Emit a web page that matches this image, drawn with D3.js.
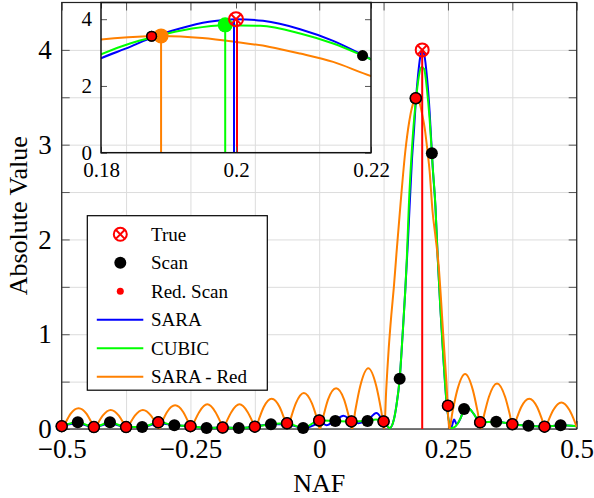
<!DOCTYPE html>
<html>
<head>
<meta charset="utf-8">
<script src="https://cdn.jsdelivr.net/npm/d3@7"></script>
<style>
body { margin: 0; background: #fff; }
text { font-family: "Liberation Serif", "Times New Roman", serif; fill: #000; }
</style>
</head>
<body>
<script>
const width = 594;
const height = 498;

// scan points, spacing 1/32
const scanX = [-0.5, -0.46875, -0.4375, -0.40625, -0.375, -0.34375, -0.3125, -0.28125,
    -0.25, -0.21875, -0.1875, -0.15625, -0.125, -0.09375, -0.0625, -0.03125,
    0, 0.03125, 0.0625, 0.09375, 0.125, 0.15625, 0.1875, 0.21875,
    0.25, 0.28125, 0.3125, 0.34375, 0.375, 0.40625, 0.4375, 0.46875];
const scanY = [0.03, 0.07, 0.02, 0.07, 0.02, 0.02, 0.07, 0.04,
    0.03, 0.01, 0.015, 0.01, 0.025, 0.05, 0.06, 0.01,
    0.09, 0.085, 0.08, 0.085, 0.08, 0.53, 3.49, 2.91,
    0.246, 0.21, 0.07, 0.077, 0.05, 0.035, 0.025, 0.04];

// reduced scan (every other point)
const redX = [-0.5, -0.4375, -0.375, -0.3125, -0.25, -0.1875, -0.125, -0.0625,
    0, 0.0625, 0.125, 0.1875, 0.25, 0.3125, 0.375, 0.4375];
const redY = [0.03, 0.02, 0.02, 0.07, 0.03, 0.015, 0.025, 0.06,
    0.09, 0.08, 0.08, 3.49, 0.246, 0.07, 0.05, 0.025];

const trueX = 0.2;
const trueY = 4;

// estimated peaks shown in the zoom
const peakX = [0.1889, 0.1984, 0.1997];
const peakY = [3.5, 3.83, 4.0];

const sara = [[-0.5, 0.03], [-0.46875, 0.06], [-0.4375, 0.02], [-0.40625, 0.06], [-0.375, 0.02],
    [-0.34375, 0.02], [-0.3125, 0.06], [-0.28125, 0.04], [-0.25, 0.03], [-0.21875, 0.01],
    [-0.1875, 0.015], [-0.15625, 0.01], [-0.125, 0.025], [-0.09375, 0.05], [-0.0625, 0.05],
    [-0.03125, 0.01], [-0.01, 0.04], [0, 0.08], [0.014, 0.04], [0.031, 0.09], [0.047, 0.14],
    [0.0625, 0.09], [0.076, 0.06], [0.094, 0.09], [0.111, 0.17], [0.125, 0.08], [0.137, 0.01],
    [0.145, 0.1], [0.15, 0.25], [0.15625, 0.53], [0.162, 1.0], [0.167, 1.45], [0.1725, 2.0],
    [0.18, 2.83], [0.1843, 3.17], [0.1875, 3.45], [0.1917, 3.72], [0.196, 3.92], [0.2, 4.0],
    [0.204, 3.95], [0.2095, 3.7], [0.2144, 3.35], [0.21875, 2.93], [0.22, 2.8], [0.2257, 2.35],
    [0.2302, 1.8], [0.235, 1.3], [0.24, 0.85], [0.247, 0.3], [0.256, 0.01], [0.262, 0.1],
    [0.267, 0.05], [0.275, 0.12], [0.28125, 0.21], [0.29, 0.22], [0.3, 0.16], [0.3125, 0.07],
    [0.34375, 0.077], [0.375, 0.05], [0.40625, 0.035], [0.4375, 0.025], [0.46875, 0.04], [0.5, 0.03]];

const cubic = [[-0.5, 0.03], [-0.46875, 0.07], [-0.4375, 0.02], [-0.40625, 0.07], [-0.375, 0.02],
    [-0.34375, 0.02], [-0.3125, 0.07], [-0.28125, 0.04], [-0.25, 0.03], [-0.21875, 0.01],
    [-0.1875, 0.015], [-0.15625, 0.01], [-0.125, 0.025], [-0.09375, 0.05], [-0.0625, 0.06],
    [-0.03125, 0.01], [0, 0.09], [0.03125, 0.085], [0.0625, 0.08], [0.094, 0.085], [0.11, 0.1],
    [0.125, 0.08], [0.137, 0.01], [0.145, 0.1], [0.15, 0.25], [0.15625, 0.53], [0.162, 1.0],
    [0.167, 1.45], [0.17, 1.78], [0.174, 2.35], [0.18, 2.95], [0.1843, 3.27], [0.1875, 3.45],
    [0.1935, 3.72], [0.1984, 3.82], [0.2036, 3.8], [0.2095, 3.57], [0.2144, 3.27], [0.21875, 2.91],
    [0.22, 2.8], [0.2257, 2.35], [0.2302, 1.8], [0.235, 1.3], [0.24, 0.85], [0.247, 0.3],
    [0.256, 0.01], [0.265, 0.03], [0.275, 0.12], [0.28125, 0.2], [0.29, 0.22], [0.3, 0.16],
    [0.3125, 0.07], [0.34375, 0.077], [0.375, 0.05], [0.40625, 0.035], [0.4375, 0.025],
    [0.46875, 0.04], [0.5, 0.03]];

const saraRed = [[-0.5, 0.01],
    [-0.4985, 0], [-0.4922, 0.07], [-0.4829, 0.16], [-0.4673, 0.22], [-0.4516, 0.16], [-0.4423, 0.07],
    [-0.436, 0], [-0.4297, 0.06], [-0.4204, 0.14], [-0.4048, 0.20], [-0.3891, 0.14], [-0.3798, 0.06],
    [-0.3735, 0], [-0.3672, 0.06], [-0.3579, 0.14], [-0.3423, 0.20], [-0.3266, 0.14], [-0.3173, 0.06],
    [-0.311, 0], [-0.3047, 0.08], [-0.2954, 0.18], [-0.2798, 0.25], [-0.2641, 0.18], [-0.2548, 0.08],
    [-0.2485, 0], [-0.2422, 0.08], [-0.2329, 0.18], [-0.2173, 0.26], [-0.2016, 0.18], [-0.1923, 0.08],
    [-0.186, 0], [-0.1797, 0.08], [-0.1704, 0.18], [-0.1548, 0.26], [-0.1391, 0.18], [-0.1298, 0.08],
    [-0.1235, 0], [-0.1172, 0.10], [-0.1079, 0.23], [-0.0923, 0.32], [-0.0766, 0.23], [-0.0673, 0.10],
    [-0.061, 0], [-0.0547, 0.12], [-0.0454, 0.27], [-0.0298, 0.38], [-0.0141, 0.27], [-0.0048, 0.12],
    [0.0015, 0], [0.0078, 0.13], [0.0171, 0.31], [0.0328, 0.43], [0.0484, 0.31], [0.0577, 0.13],
    [0.064, 0], [0.0703, 0.20], [0.0796, 0.45], [0.0953, 0.64], [0.1109, 0.45], [0.1202, 0.20],
    [0.1265, 0], [0.130, 0.4], [0.135, 0.85], [0.140, 1.2], [0.145, 1.5], [0.150, 1.85],
    [0.158, 2.38], [0.167, 2.92], [0.175, 3.25], [0.180, 3.39], [0.184, 3.46], [0.189, 3.5],
    [0.195, 3.44], [0.200, 3.32], [0.205, 3.17], [0.2095, 2.97], [0.2144, 2.72], [0.220, 2.3],
    [0.226, 2.02], [0.232, 1.72], [0.237, 1.33], [0.241, 0.98], [0.247, 0.5],
    [0.2525, 0], [0.2588, 0.18], [0.2681, 0.41], [0.2833, 0.58], [0.2984, 0.41], [0.3077, 0.18],
    [0.314, 0], [0.3203, 0.15], [0.3296, 0.34], [0.3453, 0.48], [0.3609, 0.34], [0.3702, 0.15],
    [0.3765, 0], [0.3828, 0.10], [0.3921, 0.23], [0.4078, 0.32], [0.4234, 0.23], [0.4327, 0.10],
    [0.439, 0], [0.4453, 0.09], [0.4546, 0.20], [0.4703, 0.28], [0.4859, 0.20], [0.4952, 0.09],
    [0.5, 0.02]];

const xGridTicks = [-0.5, -0.375, -0.25, -0.125, 0, 0.125, 0.25, 0.375, 0.5];
const yGridTicks = [0, 0.5, 1, 1.5, 2, 2.5, 3, 3.5, 4];
const xTickValues = [-0.5, -0.25, 0, 0.25, 0.5];
const xTickLabels = ["\u22120.5", "\u22120.25", "0", "0.25", "0.5"];
const yTickValues = [0, 1, 2, 3, 4];
const yTickLabels = ["0", "1", "2", "3", "4"];

const insetXTicks = [0.18, 0.2, 0.22];
const insetXLabels = ["0.18", "0.2", "0.22"];
const insetYTicks = [0, 2, 4];
const insetYLabels = ["0", "2", "4"];

const legendNames = ["True", "Scan", "Red. Scan", "SARA", "CUBIC", "SARA - Red"];

const BLUE = "#0000ff", GREEN = "#00ff00", ORANGE = "#ff8000", RED = "#ff0000";

const svg = d3.select('body').append('svg')
    .attr('width', width)
    .attr('height', height);

const x = d3.scaleLinear().domain([-0.5, 0.5]).range([61.7, 576.7]);
const y = d3.scaleLinear().domain([0, 4.5]).range([429, 2.5]);

const plotW = x(0.5) - x(-0.5);
const plotH = y(0) - y(4.5);

// grid
svg.append("g")
    .attr("transform", "translate(0," + y(0) + ")")
    .call(d3.axisBottom(x).tickValues(xGridTicks).tickSize(-plotH).tickFormat(""))
    .call(g => g.select(".domain").remove())
    .selectAll("line").attr("stroke", "#dcdcdc");
svg.append("g")
    .attr("transform", "translate(" + x(-0.5) + ",0)")
    .call(d3.axisLeft(y).tickValues(yGridTicks).tickSize(-plotW).tickFormat(""))
    .call(g => g.select(".domain").remove())
    .selectAll("line").attr("stroke", "#dcdcdc");

function lbl(values, labels) {
    return d => {
        const i = values.indexOf(d);
        return i >= 0 ? labels[i] : "";
    };
}

// tick marks, inside on every side
const axBottom = svg.append("g")
    .attr("transform", "translate(0," + y(0) + ")")
    .call(d3.axisBottom(x).tickValues(xGridTicks).tickSizeInner(-8).tickSizeOuter(0)
        .tickPadding(10).tickFormat(lbl(xTickValues, xTickLabels)));
const axTop = svg.append("g")
    .attr("transform", "translate(0," + y(4.5) + ")")
    .call(d3.axisTop(x).tickValues(xGridTicks).tickSizeInner(-8).tickSizeOuter(0).tickFormat(""));
const axLeft = svg.append("g")
    .attr("transform", "translate(" + x(-0.5) + ",0)")
    .call(d3.axisLeft(y).tickValues(yGridTicks).tickSizeInner(-8).tickSizeOuter(0)
        .tickPadding(10).tickFormat(lbl(yTickValues, yTickLabels)));
const axRight = svg.append("g")
    .attr("transform", "translate(" + x(0.5) + ",0)")
    .call(d3.axisRight(y).tickValues(yGridTicks).tickSizeInner(-8).tickSizeOuter(0).tickFormat(""));

[axBottom, axTop, axLeft, axRight].forEach(g => {
    g.select(".domain").remove();
    g.selectAll("line").attr("stroke", "#555");
    g.selectAll("text").style("font-size", "27px")
        .style("font-family", '"Liberation Serif", serif').attr("fill", "#000");
});

svg.append("rect")
    .attr("x", x(-0.5)).attr("y", y(4.5))
    .attr("width", plotW).attr("height", plotH)
    .attr("fill", "none").attr("stroke", "#222").attr("stroke-width", 1.2);

// axis titles
svg.append("text")
    .attr("x", (x(-0.5) + x(0.5)) / 2)
    .attr("y", 492)
    .attr("text-anchor", "middle")
    .style("font-size", "26px")
    .text("NAF");
svg.append("text")
    .attr("transform", "translate(27," + ((y(0) + y(4.5)) / 2) + ") rotate(-90)")
    .attr("text-anchor", "middle")
    .style("font-size", "26px")
    .text("Absolute Value");

// curves
svg.append("clipPath").attr("id", "clipMain")
    .append("rect")
    .attr("x", x(-0.5)).attr("y", y(4.5))
    .attr("width", plotW).attr("height", plotH);

function drawCurves(parent, xs, ys, clipId) {
    const line = d3.line()
        .x(d => xs(d[0]))
        .y(d => ys(d[1]))
        .curve(d3.curveMonotoneX);
    const g = parent.append("g").attr("clip-path", "url(#" + clipId + ")");
    [[sara, BLUE], [cubic, GREEN], [saraRed, ORANGE]].forEach(s => {
        g.append("path")
            .datum(s[0])
            .attr("d", line)
            .attr("fill", "none")
            .attr("stroke", s[1])
            .attr("stroke-width", 2)
            .attr("stroke-linejoin", "round");
    });
}

function trueMarker(parent, cx, cy, r) {
    const g = parent.append("g").attr("transform", "translate(" + cx + "," + cy + ")");
    g.append("circle").attr("r", r).attr("fill", "none")
        .attr("stroke", RED).attr("stroke-width", 2);
    const k = r * 0.7;
    g.append("line").attr("x1", -k).attr("y1", -k).attr("x2", k).attr("y2", k)
        .attr("stroke", RED).attr("stroke-width", 2);
    g.append("line").attr("x1", -k).attr("y1", k).attr("x2", k).attr("y2", -k)
        .attr("stroke", RED).attr("stroke-width", 2);
}

drawCurves(svg, x, y, "clipMain");

// true stem
svg.append("line")
    .attr("x1", x(trueX)).attr("x2", x(trueX))
    .attr("y1", y(0)).attr("y2", y(trueY))
    .attr("stroke", RED).attr("stroke-width", 2);

// scan markers
svg.append("g").selectAll("circle")
    .data(scanX)
    .enter()
    .append("circle")
    .attr("cx", d => x(d))
    .attr("cy", (d, i) => y(scanY[i]))
    .attr("r", 6)
    .attr("fill", "#000");

svg.append("g").selectAll("circle")
    .data(redX)
    .enter()
    .append("circle")
    .attr("cx", d => x(d))
    .attr("cy", (d, i) => y(redY[i]))
    .attr("r", 5.5)
    .attr("fill", RED)
    .attr("stroke", "#000")
    .attr("stroke-width", 1.5);

trueMarker(svg, x(trueX), y(trueY), 6.5);

// inset zoom
const xi = d3.scaleLinear().domain([0.18, 0.22]).range([101, 371]);
const yi = d3.scaleLinear().domain([0, 4.5]).range([152.7, 2.5]);
const inset = svg.append("g");

inset.append("clipPath").attr("id", "clipInset")
    .append("rect")
    .attr("x", xi(0.18)).attr("y", yi(4.5))
    .attr("width", xi(0.22) - xi(0.18)).attr("height", yi(0) - yi(4.5));

drawCurves(inset, xi, yi, "clipInset");

const peakColors = [ORANGE, GREEN, BLUE];
peakX.forEach((px, i) => {
    inset.append("line")
        .attr("x1", xi(px)).attr("x2", xi(px))
        .attr("y1", yi(0)).attr("y2", yi(peakY[i]))
        .attr("stroke", peakColors[i]).attr("stroke-width", 2);
});
inset.append("line")
    .attr("x1", xi(trueX) + 1).attr("x2", xi(trueX) + 1)
    .attr("y1", yi(0)).attr("y2", yi(trueY))
    .attr("stroke", RED).attr("stroke-width", 2);
peakX.slice(0, 2).forEach((px, i) => {
    inset.append("circle")
        .attr("cx", xi(px)).attr("cy", yi(peakY[i]))
        .attr("r", 7.5).attr("fill", peakColors[i]);
});

const inScan = scanX.map((d, i) => [d, scanY[i]]).filter(d => d[0] >= 0.18 && d[0] <= 0.22);
inset.selectAll("circle.scan")
    .data(inScan)
    .enter()
    .append("circle")
    .attr("class", "scan")
    .attr("cx", d => xi(d[0]))
    .attr("cy", d => yi(d[1]))
    .attr("r", 5.5)
    .attr("fill", "#000");
const inRed = redX.map((d, i) => [d, redY[i]]).filter(d => d[0] >= 0.18 && d[0] <= 0.22);
inset.selectAll("circle.red")
    .data(inRed)
    .enter()
    .append("circle")
    .attr("class", "red")
    .attr("cx", d => xi(d[0]))
    .attr("cy", d => yi(d[1]))
    .attr("r", 4.8)
    .attr("fill", RED)
    .attr("stroke", "#000")
    .attr("stroke-width", 1.5);
trueMarker(inset, xi(trueX), yi(trueY), 7);

const inB = inset.append("g")
    .attr("transform", "translate(0," + yi(0) + ")")
    .call(d3.axisBottom(xi).tickValues(insetXTicks).tickSizeInner(-6).tickSizeOuter(0)
        .tickPadding(9).tickFormat(lbl(insetXTicks, insetXLabels)));
const inT = inset.append("g")
    .attr("transform", "translate(0," + yi(4.5) + ")")
    .call(d3.axisTop(xi).tickValues(insetXTicks).tickSizeInner(-6).tickSizeOuter(0).tickFormat(""));
const inL = inset.append("g")
    .attr("transform", "translate(" + xi(0.18) + ",0)")
    .call(d3.axisLeft(yi).tickValues(insetYTicks).tickSizeInner(-6).tickSizeOuter(0)
        .tickPadding(9).tickFormat(lbl(insetYTicks, insetYLabels)));
const inR = inset.append("g")
    .attr("transform", "translate(" + xi(0.22) + ",0)")
    .call(d3.axisRight(yi).tickValues(insetYTicks).tickSizeInner(-6).tickSizeOuter(0).tickFormat(""));
[inB, inT, inL, inR].forEach(g => {
    g.select(".domain").remove();
    g.selectAll("line").attr("stroke", "#555");
    g.selectAll("text").style("font-size", "21px")
        .style("font-family", '"Liberation Serif", serif').attr("fill", "#000");
});
inset.append("rect")
    .attr("x", xi(0.18)).attr("y", yi(4.5))
    .attr("width", xi(0.22) - xi(0.18)).attr("height", yi(0) - yi(4.5))
    .attr("fill", "none").attr("stroke", "#111").attr("stroke-width", 1.5);

// legend
const legend = svg.append("g").attr("transform", "translate(87.3,215.7)");
legend.append("rect")
    .attr("width", 180).attr("height", 174.5)
    .attr("fill", "#fff").attr("stroke", "#000").attr("stroke-width", 1.2);
const rowY = d => 18.6 + d * 28.5;
legendNames.forEach((name, i) => {
    const cy = rowY(i);
    if (i === 0) {
        trueMarker(legend, 33, cy, 6.5);
    } else if (i === 1) {
        legend.append("circle").attr("cx", 33).attr("cy", cy).attr("r", 6).attr("fill", "#000");
    } else if (i === 2) {
        legend.append("circle").attr("cx", 33).attr("cy", cy).attr("r", 3.5).attr("fill", RED);
    } else {
        legend.append("line")
            .attr("x1", 9.5).attr("x2", 56)
            .attr("y1", cy).attr("y2", cy)
            .attr("stroke", [BLUE, GREEN, ORANGE][i - 3])
            .attr("stroke-width", 2);
    }
    legend.append("text")
        .attr("x", 63.7)
        .attr("y", cy)
        .attr("dy", "0.35em")
        .style("font-size", "19px")
        .text(name);
});
</script>
</body>
</html>
